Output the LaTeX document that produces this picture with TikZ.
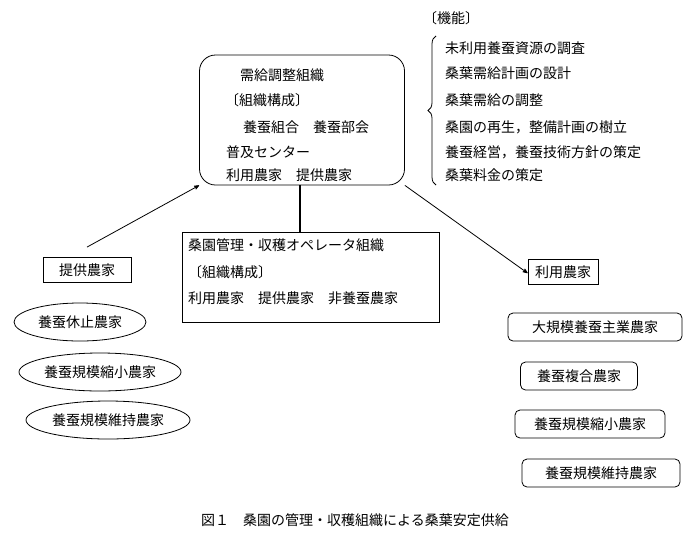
\documentclass[tikz,border=0pt]{standalone}
\usepackage{fontspec}
\setmainfont{Noto Sans CJK JP}
\usetikzlibrary{arrows,shapes.geometric,decorations.pathreplacing,positioning}

\begin{document}
\begin{tikzpicture}[x=1pt,y=-1pt,>=stealth',font=\fontsize{14}{16}\selectfont,
    txt/.style={anchor=west,inner sep=0pt},
    farm/.style={draw,thick,rounded corners=5pt,minimum height=28pt,inner sep=3pt},
    oval/.style={draw,thick,ellipse,minimum height=38pt,inner sep=1pt},
    head/.style={draw,thick,minimum height=25pt,minimum width=88pt,inner sep=4pt}]
\useasboundingbox (0,0) rectangle (700,549);
% top organisation
\node[draw,thick,rounded corners=16pt,minimum width=205pt,minimum height=130pt] (top) at (302,120) {};
\node[txt] (t1) at (240,75) {需給調整組織};
\node[txt] (t2) at (225,100) {〔組織構成〕};
\node[txt] (t3) at (243,127) {養蚕組合\quad 養蚕部会};
\node[txt] (t4) at (226,152) {普及センター};
\node[txt] (t5) at (226,175) {利用農家\quad 提供農家};
% functions
\node[txt] (f0) at (423,18) {〔機能〕};
\node[txt] (f1) at (445,48) {未利用養蚕資源の調査};
\node[txt] (f2) at (445,73) {桑葉需給計画の設計};
\node[txt] (f3) at (445,100) {桑葉需給の調整};
\node[txt] (f4) at (445,127) {桑園の再生，整備計画の樹立};
\node[txt] (f5) at (445,152) {養蚕経営，養蚕技術方針の策定};
\node[txt] (f6) at (445,175) {桑葉料金の策定};
\coordinate (b1) at (436,185);
\coordinate (b2) at (436,36);
\draw[thick,decorate,decoration={brace,amplitude=8pt}] (b1) -- (b2);
% operator organisation
\node[draw,thick,minimum width=257pt,minimum height=90pt] (op) at (311,277) {};
\node[txt] (o1) at (188,245) {桑園管理・収穫オペレータ組織};
\node[txt] (o2) at (188,272) {〔組織構成〕};
\node[txt] (o3) at (188,298) {利用農家\quad 提供農家\quad 非養蚕農家};
\draw[line width=2.5pt] (top.south -| 300,0) -- (op.north -| 300,0);
% suppliers
\node[head] (sup) at (87,270) {提供農家};
\node[oval,minimum width=132pt] (s1) at (80,322) {養蚕休止農家};
\node[oval,minimum width=162pt] (s2) at (100,372) {養蚕規模縮小農家};
\node[oval,minimum width=164pt] (s3) at (108,420) {養蚕規模維持農家};
% users
\node[head,minimum width=70pt] (use) at (563,272) {利用農家};
\node[farm,minimum width=174pt] (u1) at (595,327) {大規模養蚕主業農家};
\node[farm,minimum width=117pt] (u2) at (579,376) {養蚕複合農家};
\node[farm,minimum width=150pt] (u3) at (590,424) {養蚕規模縮小農家};
\node[farm,minimum width=158pt] (u4) at (601,473) {養蚕規模維持農家};
\draw[->,thick] (sup.north) ++(0,-10) -- (top.south west);
\draw[->,thick] (top.south east) -- ([yshift=-14pt]use.north west);
% caption
\node (cap) at (355,520) {図１\quad 桑園の管理・収穫組織による桑葉安定供給};
\end{tikzpicture}
\end{document}
